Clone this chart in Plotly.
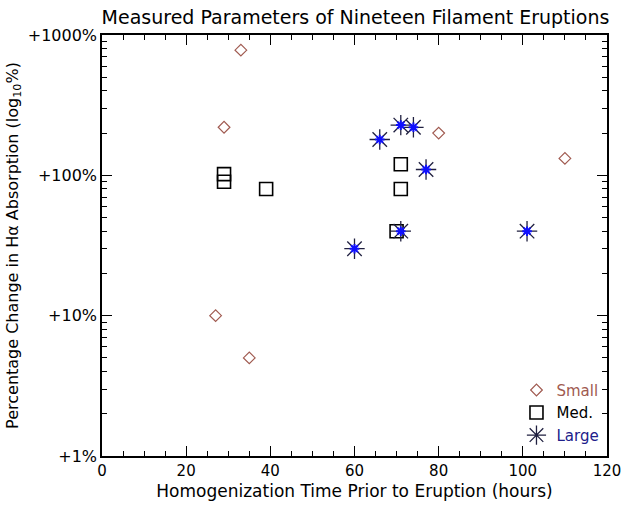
import plotly.graph_objects as go

# Data
small_x = [33, 29, 80, 110, 27, 35]
small_y = [780, 220, 200, 132, 10, 5]
med_x = [29, 29, 39, 71, 71, 70]
med_y = [102, 90, 80, 120, 80, 40]
large_x = [66, 71, 74, 77, 71, 60, 101]
large_y = [180, 228, 220, 110, 40, 30, 40]

x_ticks = [0, 20, 40, 60, 80, 100, 120]

SMALL_C = "#a05a50"
LARGE_C = "#20208a"

fig = go.Figure()
fig.add_trace(go.Scatter(
    x=small_x, y=small_y, mode="markers",
    name="<span style='color:%s'>Small</span>" % SMALL_C,
    marker=dict(symbol="diamond-open", size=9, color=SMALL_C, line=dict(width=1.2, color=SMALL_C)),
))
fig.add_trace(go.Scatter(
    x=med_x, y=med_y, mode="markers",
    name="<span style='color:#000000'>Med.</span>",
    marker=dict(symbol="square-open", size=13, color="black", line=dict(width=1.6, color="black")),
))
fig.add_trace(go.Scatter(
    x=large_x, y=large_y, mode="markers",
    name="<span style='color:%s'>Large</span>" % LARGE_C,
    marker=dict(symbol="asterisk-open", size=17, color="#202040", line=dict(width=1.3, color="#202040")),
))
fig.add_trace(go.Scatter(
    x=large_x, y=large_y, mode="markers", showlegend=False,
    marker=dict(symbol="asterisk-open", size=8, color="#1010ff", line=dict(width=2, color="#1010ff")),
))

fig.update_layout(
    width=633, height=510,
    margin=dict(l=102, r=24, t=35, b=52),
    paper_bgcolor="white", plot_bgcolor="white",
    font=dict(family="DejaVu Sans", color="black"),
    title=dict(text="Measured Parameters of Nineteen Filament Eruptions",
               x=(102 + 609) / 2 / 633, xref="container", xanchor="center",
               y=1 - 17 / 510, yanchor="middle", yref="container",
               font=dict(size=19, family="DejaVu Sans")),
    showlegend=True,
    legend=dict(x=0.995, y=0.01, xanchor="right", yanchor="bottom",
                bgcolor="rgba(0,0,0,0)", font=dict(size=15),
                itemwidth=30, tracegroupgap=0),
)

fig.update_xaxes(
    range=[0, 120], tickvals=x_ticks,
    ticks="inside", ticklen=10, tickwidth=1, tickcolor="black",
    showline=True, linecolor="black", linewidth=1.5, mirror="ticks",
    showgrid=False, zeroline=False,
    minor=dict(ticks="inside", ticklen=5, dtick=5, tickcolor="black", showgrid=False),
    tickfont=dict(size=15, family="DejaVu Sans"),
    title=dict(text="Homogenization Time Prior to Eruption (hours)", font=dict(size=17), standoff=6),
)
fig.update_yaxes(
    type="log", range=[0, 3], tickmode="linear", tick0=0, dtick=1,
    tickprefix="+", ticksuffix="%", exponentformat="none",
    ticks="inside", ticklen=10, tickwidth=1, tickcolor="black",
    showline=True, linecolor="black", linewidth=1.5, mirror="ticks",
    showgrid=False, zeroline=False,
    minor=dict(ticks="inside", ticklen=5, tickcolor="black", showgrid=False),
    tickfont=dict(size=16, family="DejaVu Sans"),
    title=dict(text="Percentage Change in Hα Absorption (log<sub>10</sub>%)", font=dict(size=16), standoff=5),
)

fig.write_html("out.html")
